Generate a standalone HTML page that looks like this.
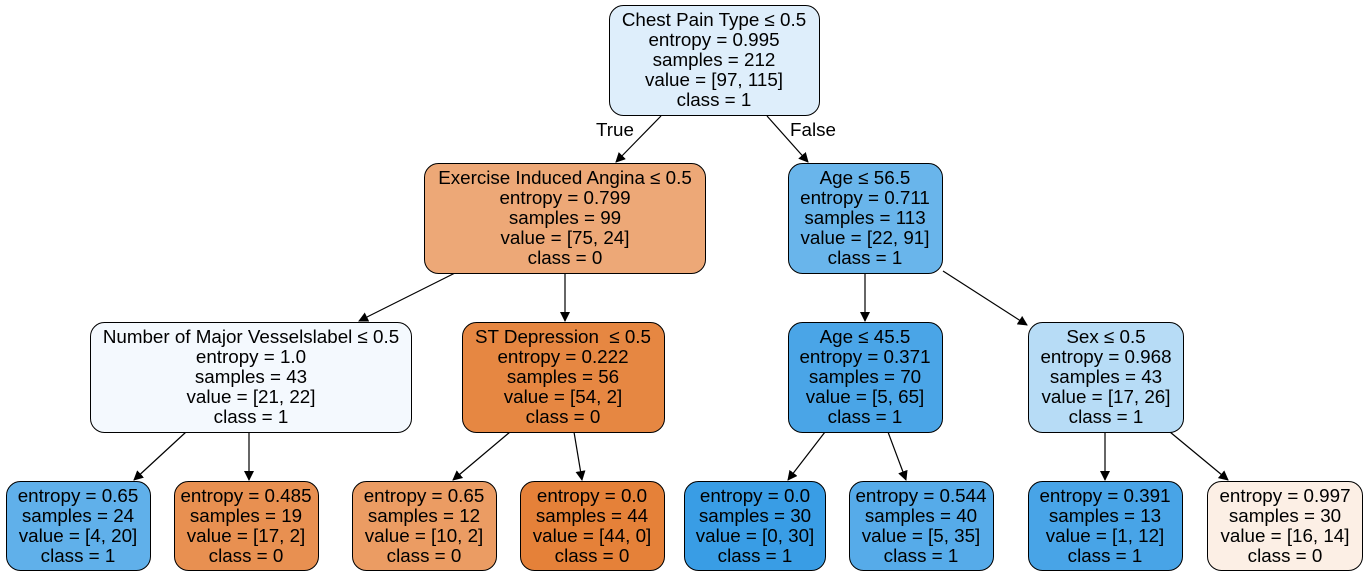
<!DOCTYPE html>
<html><head><style>body{margin:0;background:#fff}svg{display:block}text{font-family:"Liberation Sans",Arial,sans-serif;font-size:18.8px;text-anchor:middle;fill:#000}</style></head><body>
<svg width="1367" height="577" viewBox="0 0 1367 577">
<defs><marker id="a" markerWidth="10" markerHeight="10" refX="9" refY="5" orient="auto" markerUnits="userSpaceOnUse"><path d="M0,0 L10,5 L0,10 z" fill="#000"/></marker></defs>
<g stroke="#000" stroke-width="1.2" fill="none" marker-end="url(#a)">
<line x1="661" y1="116" x2="616" y2="162"/>
<line x1="767" y1="116" x2="808" y2="162"/>
<line x1="455" y1="273" x2="359" y2="321"/>
<line x1="565" y1="273" x2="565" y2="321"/>
<line x1="865" y1="273" x2="865" y2="321"/>
<line x1="943" y1="271" x2="1027" y2="325"/>
<line x1="186" y1="432" x2="134" y2="480"/>
<line x1="249" y1="432" x2="249" y2="480"/>
<line x1="510" y1="432" x2="453" y2="480"/>
<line x1="574" y1="432" x2="582" y2="480"/>
<line x1="825" y1="432" x2="788" y2="480"/>
<line x1="888" y1="432" x2="906" y2="480"/>
<line x1="1105" y1="432" x2="1105" y2="480"/>
<line x1="1170" y1="432" x2="1228" y2="480"/>
</g>
<text x="615" y="136">True</text><text x="813" y="136">False</text>
<g stroke="#000" stroke-width="1">
<rect x="609.5" y="5.5" width="210" height="110" rx="14" fill="#deeefb"/>
<rect x="424.5" y="163.5" width="281" height="110" rx="14" fill="#eda877"/>
<rect x="788.5" y="163.5" width="154" height="110" rx="14" fill="#69b5eb"/>
<rect x="90.5" y="322.5" width="321" height="110" rx="14" fill="#f4f9fe"/>
<rect x="462.5" y="322.5" width="202" height="110" rx="14" fill="#e68742"/>
<rect x="788.5" y="322.5" width="154" height="110" rx="14" fill="#4aa5e7"/>
<rect x="1028.5" y="322.5" width="155" height="110" rx="14" fill="#b7dcf6"/>
<rect x="6.5" y="481.5" width="144" height="89" rx="14" fill="#60b0ea"/>
<rect x="174.5" y="481.5" width="144" height="89" rx="14" fill="#e89051"/>
<rect x="352.5" y="481.5" width="144" height="89" rx="14" fill="#eb9c63"/>
<rect x="520.5" y="481.5" width="144" height="89" rx="14" fill="#e58139"/>
<rect x="684.5" y="481.5" width="141" height="89" rx="14" fill="#399de5"/>
<rect x="849.5" y="481.5" width="144" height="89" rx="14" fill="#56abe9"/>
<rect x="1028.5" y="481.5" width="154" height="89" rx="14" fill="#48a4e7"/>
<rect x="1207.5" y="481.5" width="155" height="89" rx="14" fill="#fcefe5"/>
</g>
<text x="714" y="26">Chest Pain Type ≤ 0.5</text><text x="714" y="46">entropy = 0.995</text><text x="714" y="66">samples = 212</text><text x="714" y="86">value = [97, 115]</text><text x="714" y="106">class = 1</text>
<text x="565" y="184">Exercise Induced Angina ≤ 0.5</text><text x="565" y="204">entropy = 0.799</text><text x="565" y="224">samples = 99</text><text x="565" y="244">value = [75, 24]</text><text x="565" y="264">class = 0</text>
<text x="865" y="184">Age ≤ 56.5</text><text x="865" y="204">entropy = 0.711</text><text x="865" y="224">samples = 113</text><text x="865" y="244">value = [22, 91]</text><text x="865" y="264">class = 1</text>
<text x="251" y="343">Number of Major Vesselslabel ≤ 0.5</text><text x="251" y="363">entropy = 1.0</text><text x="251" y="383">samples = 43</text><text x="251" y="403">value = [21, 22]</text><text x="251" y="423">class = 1</text>
<text x="563" y="343">ST Depression&#160; ≤ 0.5</text><text x="563" y="363">entropy = 0.222</text><text x="563" y="383">samples = 56</text><text x="563" y="403">value = [54, 2]</text><text x="563" y="423">class = 0</text>
<text x="865" y="343">Age ≤ 45.5</text><text x="865" y="363">entropy = 0.371</text><text x="865" y="383">samples = 70</text><text x="865" y="403">value = [5, 65]</text><text x="865" y="423">class = 1</text>
<text x="1106" y="343">Sex ≤ 0.5</text><text x="1106" y="363">entropy = 0.968</text><text x="1106" y="383">samples = 43</text><text x="1106" y="403">value = [17, 26]</text><text x="1106" y="423">class = 1</text>
<text x="78" y="502">entropy = 0.65</text><text x="78" y="522">samples = 24</text><text x="78" y="542">value = [4, 20]</text><text x="78" y="562">class = 1</text>
<text x="246" y="502">entropy = 0.485</text><text x="246" y="522">samples = 19</text><text x="246" y="542">value = [17, 2]</text><text x="246" y="562">class = 0</text>
<text x="424" y="502">entropy = 0.65</text><text x="424" y="522">samples = 12</text><text x="424" y="542">value = [10, 2]</text><text x="424" y="562">class = 0</text>
<text x="592" y="502">entropy = 0.0</text><text x="592" y="522">samples = 44</text><text x="592" y="542">value = [44, 0]</text><text x="592" y="562">class = 0</text>
<text x="755" y="502">entropy = 0.0</text><text x="755" y="522">samples = 30</text><text x="755" y="542">value = [0, 30]</text><text x="755" y="562">class = 1</text>
<text x="921" y="502">entropy = 0.544</text><text x="921" y="522">samples = 40</text><text x="921" y="542">value = [5, 35]</text><text x="921" y="562">class = 1</text>
<text x="1105" y="502">entropy = 0.391</text><text x="1105" y="522">samples = 13</text><text x="1105" y="542">value = [1, 12]</text><text x="1105" y="562">class = 1</text>
<text x="1285" y="502">entropy = 0.997</text><text x="1285" y="522">samples = 30</text><text x="1285" y="542">value = [16, 14]</text><text x="1285" y="562">class = 0</text>
</svg>
</body></html>
